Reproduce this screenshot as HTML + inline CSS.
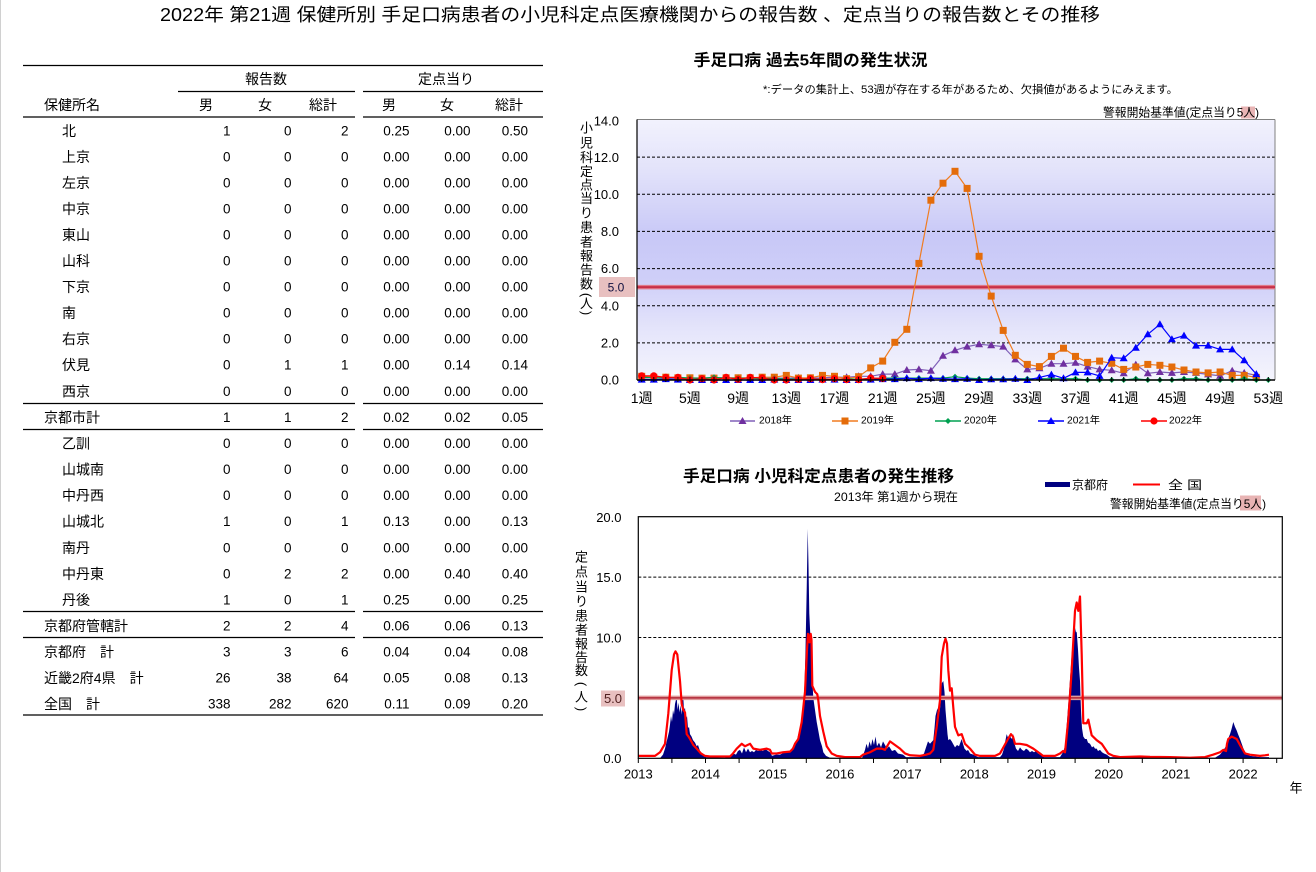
<!DOCTYPE html>
<html><head><meta charset="utf-8"><style>
html,body{margin:0;padding:0;background:#fff;}
svg{display:block;font-family:"Liberation Sans","Noto Sans CJK JP",sans-serif;}
</style></head><body>
<svg width="1316" height="872" viewBox="0 0 1316 872" xmlns="http://www.w3.org/2000/svg">
<defs>
<linearGradient id="bg1" x1="0" y1="0" x2="0" y2="1">
<stop offset="0" stop-color="#f2f2fd"/>
<stop offset="0.2" stop-color="#e2e2fa"/>
<stop offset="0.45" stop-color="#c8c8f7"/>
<stop offset="0.62" stop-color="#cfcff8"/>
<stop offset="0.82" stop-color="#e6e6fb"/>
<stop offset="1" stop-color="#f4f4fd"/>
</linearGradient>
<marker id="mP" viewBox="-5 -5 10 10" markerWidth="10" markerHeight="10" markerUnits="userSpaceOnUse" refX="0" refY="0"><path d="M0,-4L4,3L-4,3Z" fill="#7030a0"/></marker>
<marker id="mO" viewBox="-5 -5 10 10" markerWidth="10" markerHeight="10" markerUnits="userSpaceOnUse" refX="0" refY="0"><rect x="-3.5" y="-3.5" width="7" height="7" fill="#e46c0a"/></marker>
<marker id="mG" viewBox="-5 -5 10 10" markerWidth="10" markerHeight="10" markerUnits="userSpaceOnUse" refX="0" refY="0"><path d="M0,-3L3,0L0,3L-3,0Z" fill="#00a050"/></marker>
<marker id="mB" viewBox="-5 -5 10 10" markerWidth="10" markerHeight="10" markerUnits="userSpaceOnUse" refX="0" refY="0"><path d="M0,-4L4,3L-4,3Z" fill="#0000ff"/></marker>
<marker id="mR" viewBox="-5 -5 10 10" markerWidth="10" markerHeight="10" markerUnits="userSpaceOnUse" refX="0" refY="0"><circle r="3.6" fill="#ff0000"/></marker>
</defs>

<rect x="0" y="0" width="1316" height="872" fill="#fff"/>
<line x1="0.5" y1="0" x2="0.5" y2="872" stroke="#d0d0d0" stroke-width="1"/>

<!-- Title -->
<text x="160" y="15" dominant-baseline="central" font-size="18" textLength="940" lengthAdjust="spacingAndGlyphs">2022年 第21週 保健所別 手足口病患者の小児科定点医療機関からの報告数 、定点当りの報告数とその推移</text>

<!-- TABLE -->
<g stroke="#000" stroke-width="1.3">
<line x1="23" y1="65.5" x2="543" y2="65.5"/>
<line x1="178" y1="91.5" x2="355" y2="91.5"/>
<line x1="363" y1="91.5" x2="543" y2="91.5"/>
<line x1="23" y1="117" x2="355" y2="117"/>
<line x1="363" y1="117" x2="543" y2="117"/>
<line x1="23" y1="403.5" x2="355" y2="403.5"/>
<line x1="363" y1="403.5" x2="543" y2="403.5"/>
<line x1="23" y1="429.5" x2="355" y2="429.5"/>
<line x1="363" y1="429.5" x2="543" y2="429.5"/>
<line x1="23" y1="611.5" x2="355" y2="611.5"/>
<line x1="363" y1="611.5" x2="543" y2="611.5"/>
<line x1="23" y1="637.5" x2="355" y2="637.5"/>
<line x1="363" y1="637.5" x2="543" y2="637.5"/>
<line x1="23" y1="715" x2="543" y2="715"/>
</g>
<g font-size="14" dominant-baseline="central" fill="#000">
<text x="266" y="79" text-anchor="middle">報告数</text>
<text x="446" y="79" text-anchor="middle">定点当り</text>
<text x="44" y="105">保健所名</text>
<text x="206" y="105" text-anchor="middle">男</text>
<text x="265" y="105" text-anchor="middle">女</text>
<text x="323" y="105" text-anchor="middle">総計</text>
<text x="389" y="105" text-anchor="middle">男</text>
<text x="447" y="105" text-anchor="middle">女</text>
<text x="509" y="105" text-anchor="middle">総計</text>
</g>
<g font-size="14" dominant-baseline="central" fill="#000">
<text x="62" y="131">北</text>
<text x="62" y="157">上京</text>
<text x="62" y="183">左京</text>
<text x="62" y="209">中京</text>
<text x="62" y="235">東山</text>
<text x="62" y="261">山科</text>
<text x="62" y="287">下京</text>
<text x="62" y="313">南</text>
<text x="62" y="339">右京</text>
<text x="62" y="365">伏見</text>
<text x="62" y="391.5">西京</text>
<text x="44" y="417.5">京都市計</text>
<text x="62" y="443.5">乙訓</text>
<text x="62" y="469.5">山城南</text>
<text x="62" y="495.5">中丹西</text>
<text x="62" y="521.5">山城北</text>
<text x="62" y="548">南丹</text>
<text x="62" y="574">中丹東</text>
<text x="62" y="600">丹後</text>
<text x="44" y="626">京都府管轄計</text>
<text x="44" y="652">京都府　計</text>
<text x="44" y="678">近畿2府4県　計</text>
<text x="44" y="704">全国　計</text>
</g>
<g font-size="13.5" dominant-baseline="central" text-anchor="end" fill="#000">
<!-- columns: 230.5, 291.5, 348.5, 409.5, 470.5, 528 -->
<text x="230.5" y="131">1</text><text x="291.5" y="131">0</text><text x="348.5" y="131">2</text><text x="409.5" y="131">0.25</text><text x="470.5" y="131">0.00</text><text x="528" y="131">0.50</text>
<text x="230.5" y="157">0</text><text x="291.5" y="157">0</text><text x="348.5" y="157">0</text><text x="409.5" y="157">0.00</text><text x="470.5" y="157">0.00</text><text x="528" y="157">0.00</text>
<text x="230.5" y="183">0</text><text x="291.5" y="183">0</text><text x="348.5" y="183">0</text><text x="409.5" y="183">0.00</text><text x="470.5" y="183">0.00</text><text x="528" y="183">0.00</text>
<text x="230.5" y="209">0</text><text x="291.5" y="209">0</text><text x="348.5" y="209">0</text><text x="409.5" y="209">0.00</text><text x="470.5" y="209">0.00</text><text x="528" y="209">0.00</text>
<text x="230.5" y="235">0</text><text x="291.5" y="235">0</text><text x="348.5" y="235">0</text><text x="409.5" y="235">0.00</text><text x="470.5" y="235">0.00</text><text x="528" y="235">0.00</text>
<text x="230.5" y="261">0</text><text x="291.5" y="261">0</text><text x="348.5" y="261">0</text><text x="409.5" y="261">0.00</text><text x="470.5" y="261">0.00</text><text x="528" y="261">0.00</text>
<text x="230.5" y="287">0</text><text x="291.5" y="287">0</text><text x="348.5" y="287">0</text><text x="409.5" y="287">0.00</text><text x="470.5" y="287">0.00</text><text x="528" y="287">0.00</text>
<text x="230.5" y="313">0</text><text x="291.5" y="313">0</text><text x="348.5" y="313">0</text><text x="409.5" y="313">0.00</text><text x="470.5" y="313">0.00</text><text x="528" y="313">0.00</text>
<text x="230.5" y="339">0</text><text x="291.5" y="339">0</text><text x="348.5" y="339">0</text><text x="409.5" y="339">0.00</text><text x="470.5" y="339">0.00</text><text x="528" y="339">0.00</text>
<text x="230.5" y="365">0</text><text x="291.5" y="365">1</text><text x="348.5" y="365">1</text><text x="409.5" y="365">0.00</text><text x="470.5" y="365">0.14</text><text x="528" y="365">0.14</text>
<text x="230.5" y="391.5">0</text><text x="291.5" y="391.5">0</text><text x="348.5" y="391.5">0</text><text x="409.5" y="391.5">0.00</text><text x="470.5" y="391.5">0.00</text><text x="528" y="391.5">0.00</text>
<text x="230.5" y="417.5">1</text><text x="291.5" y="417.5">1</text><text x="348.5" y="417.5">2</text><text x="409.5" y="417.5">0.02</text><text x="470.5" y="417.5">0.02</text><text x="528" y="417.5">0.05</text>
<text x="230.5" y="443.5">0</text><text x="291.5" y="443.5">0</text><text x="348.5" y="443.5">0</text><text x="409.5" y="443.5">0.00</text><text x="470.5" y="443.5">0.00</text><text x="528" y="443.5">0.00</text>
<text x="230.5" y="469.5">0</text><text x="291.5" y="469.5">0</text><text x="348.5" y="469.5">0</text><text x="409.5" y="469.5">0.00</text><text x="470.5" y="469.5">0.00</text><text x="528" y="469.5">0.00</text>
<text x="230.5" y="495.5">0</text><text x="291.5" y="495.5">0</text><text x="348.5" y="495.5">0</text><text x="409.5" y="495.5">0.00</text><text x="470.5" y="495.5">0.00</text><text x="528" y="495.5">0.00</text>
<text x="230.5" y="521.5">1</text><text x="291.5" y="521.5">0</text><text x="348.5" y="521.5">1</text><text x="409.5" y="521.5">0.13</text><text x="470.5" y="521.5">0.00</text><text x="528" y="521.5">0.13</text>
<text x="230.5" y="548">0</text><text x="291.5" y="548">0</text><text x="348.5" y="548">0</text><text x="409.5" y="548">0.00</text><text x="470.5" y="548">0.00</text><text x="528" y="548">0.00</text>
<text x="230.5" y="574">0</text><text x="291.5" y="574">2</text><text x="348.5" y="574">2</text><text x="409.5" y="574">0.00</text><text x="470.5" y="574">0.40</text><text x="528" y="574">0.40</text>
<text x="230.5" y="600">1</text><text x="291.5" y="600">0</text><text x="348.5" y="600">1</text><text x="409.5" y="600">0.25</text><text x="470.5" y="600">0.00</text><text x="528" y="600">0.25</text>
<text x="230.5" y="626">2</text><text x="291.5" y="626">2</text><text x="348.5" y="626">4</text><text x="409.5" y="626">0.06</text><text x="470.5" y="626">0.06</text><text x="528" y="626">0.13</text>
<text x="230.5" y="652">3</text><text x="291.5" y="652">3</text><text x="348.5" y="652">6</text><text x="409.5" y="652">0.04</text><text x="470.5" y="652">0.04</text><text x="528" y="652">0.08</text>
<text x="230.5" y="678">26</text><text x="291.5" y="678">38</text><text x="348.5" y="678">64</text><text x="409.5" y="678">0.05</text><text x="470.5" y="678">0.08</text><text x="528" y="678">0.13</text>
<text x="230.5" y="704">338</text><text x="291.5" y="704">282</text><text x="348.5" y="704">620</text><text x="409.5" y="704">0.11</text><text x="470.5" y="704">0.09</text><text x="528" y="704">0.20</text>
</g>

<!-- TOP CHART -->
<text x="693.5" y="61" dominant-baseline="central" font-size="16" font-weight="bold" textLength="234" lengthAdjust="spacingAndGlyphs">手足口病 過去5年間の発生状況</text>
<text x="763" y="90" dominant-baseline="central" font-size="11" textLength="415" lengthAdjust="spacingAndGlyphs">*:データの集計上、53週が存在する年があるため、欠損値があるようにみえます。</text>
<rect x="1241" y="106.5" width="14" height="12" fill="#e8b4b4"/>
<text x="1103" y="112.5" dominant-baseline="central" font-size="12" textLength="156" lengthAdjust="spacingAndGlyphs">警報開始基準値(定点当り5人)</text>

<rect x="637" y="119.5" width="638" height="260.5" fill="url(#bg1)"/>
<g stroke="#000" stroke-width="1" stroke-dasharray="3,2">
<line x1="637" y1="157.1" x2="1275" y2="157.1"/>
<line x1="637" y1="194.3" x2="1275" y2="194.3"/>
<line x1="637" y1="231.4" x2="1275" y2="231.4"/>
<line x1="637" y1="268.6" x2="1275" y2="268.6"/>
<line x1="637" y1="305.7" x2="1275" y2="305.7"/>
<line x1="637" y1="342.9" x2="1275" y2="342.9"/>
</g>
<line x1="637" y1="119.5" x2="1275" y2="119.5" stroke="#808080" stroke-width="1"/>
<line x1="1275" y1="119.5" x2="1275" y2="380" stroke="#808080" stroke-width="1"/>
<line x1="637" y1="287.1" x2="1275" y2="287.1" stroke="#e07a88" stroke-width="4.5"/>
<line x1="637" y1="287.1" x2="1275" y2="287.1" stroke="#c83048" stroke-width="2"/>
<rect x="599" y="277" width="36" height="20" fill="#e8c0c0"/>
<text x="616" y="287.5" text-anchor="middle" dominant-baseline="central" font-size="12" fill="#101040">5.0</text>

<g font-size="13" text-anchor="end" dominant-baseline="central" fill="#000">
<text x="619" y="121">14.0</text>
<text x="619" y="157.5">12.0</text>
<text x="619" y="194.5">10.0</text>
<text x="619" y="231.5">8.0</text>
<text x="619" y="268.5">6.0</text>
<text x="619" y="306">4.0</text>
<text x="619" y="343">2.0</text>
<text x="619" y="380">0.0</text>
</g>
<g font-size="13" text-anchor="middle" dominant-baseline="central" fill="#000">
<text x="586.5" y="128">小</text>
<text x="586.5" y="143">児</text>
<text x="586.5" y="157.5">科</text>
<text x="586.5" y="171.5">定</text>
<text x="586.5" y="185">点</text>
<text x="586.5" y="198.5">当</text>
<text x="586.5" y="213">り</text>
<text x="586.5" y="227.5">患</text>
<text x="586.5" y="242">者</text>
<text x="586.5" y="256">報</text>
<text x="586.5" y="270">告</text>
<text x="586.5" y="284">数</text>
<text x="586.5" y="295" transform="rotate(90 586.5 295)">(</text>
<text x="586.5" y="303.5">人</text>
<text x="586.5" y="313" transform="rotate(90 586.5 313)">)</text>
</g>

<!-- series -->
<g fill="none" stroke-width="1.2" stroke-linejoin="round">
<polyline stroke="#8060b8" marker-start="url(#mP)" marker-mid="url(#mP)" marker-end="url(#mP)" points="641.7,378.1 653.8,377.8 665.8,378.1 677.9,378.5 689.9,378.1 702.0,378.5 714.0,378.1 726.1,377.8 738.1,378.1 750.2,378.1 762.2,377.8 774.3,378.1 786.3,378.1 798.4,377.8 810.4,378.1 822.5,377.8 834.5,377.2 846.6,377.2 858.6,376.3 870.7,376.3 882.7,374.1 894.8,374.1 906.8,370.0 918.9,369.4 930.9,370.7 943.0,355.7 955.0,350.3 967.1,346.6 979.1,344.3 991.2,345.3 1003.2,346.6 1015.3,359.4 1027.3,369.4 1039.4,368.3 1051.4,363.7 1063.5,363.7 1075.5,362.7 1087.6,366.6 1099.6,369.4 1111.7,370.3 1123.7,373.3 1135.8,364.6 1147.8,373.3 1159.9,372.0 1171.9,372.9 1184.0,372.0 1196.0,372.9 1208.1,374.4 1220.1,375.9 1232.2,370.7 1244.2,372.9 1256.3,375.4"/>
<polyline stroke="#f07c20" marker-start="url(#mO)" marker-mid="url(#mO)" marker-end="url(#mO)" points="641.7,376.3 653.8,377.2 665.8,377.2 677.9,377.8 689.9,377.8 702.0,378.1 714.0,378.1 726.1,377.8 738.1,377.8 750.2,377.8 762.2,377.2 774.3,377.2 786.3,375.4 798.4,378.1 810.4,377.8 822.5,375.4 834.5,376.3 846.6,378.7 858.6,376.7 870.7,367.9 882.7,361.1 894.8,342.3 906.8,329.3 918.9,263.4 930.9,200.2 943.0,183.2 955.0,171.3 967.1,188.4 979.1,256.3 991.2,296.1 1003.2,330.4 1015.3,355.3 1027.3,364.4 1039.4,366.6 1051.4,356.4 1063.5,348.2 1075.5,356.4 1087.6,362.4 1099.6,361.1 1111.7,363.3 1123.7,369.4 1135.8,367.0 1147.8,364.4 1159.9,365.3 1171.9,367.0 1184.0,370.0 1196.0,372.0 1208.1,372.9 1220.1,372.0 1232.2,375.4 1244.2,375.4 1256.3,377.4"/>
<polyline stroke="#00a050" marker-start="url(#mG)" marker-mid="url(#mG)" marker-end="url(#mG)" points="641.7,377.2 653.8,377.8 665.8,377.8 677.9,377.2 689.9,378.1 702.0,378.1 714.0,377.4 726.1,378.1 738.1,378.1 750.2,378.1 762.2,378.5 774.3,378.5 786.3,379.1 798.4,379.1 810.4,379.1 822.5,379.1 834.5,379.1 846.6,379.1 858.6,379.1 870.7,378.7 882.7,378.1 894.8,378.1 906.8,378.1 918.9,378.1 930.9,378.1 943.0,378.1 955.0,376.7 967.1,378.1 979.1,378.7 991.2,378.7 1003.2,378.7 1015.3,378.7 1027.3,378.7 1039.4,378.7 1051.4,378.7 1063.5,378.7 1075.5,378.7 1087.6,380 1099.6,380 1111.7,380 1123.7,380 1135.8,378.7 1147.8,380 1159.9,380 1171.9,380 1184.0,378.7 1196.0,378.7 1208.1,380 1220.1,380 1232.2,380 1244.2,378.7 1256.3,380 1268.3,380"/>
<polyline stroke="#0000ff" marker-start="url(#mB)" marker-mid="url(#mB)" marker-end="url(#mB)" points="641.7,379.6 653.8,379.6 665.8,379.1 677.9,379.6 689.9,380 702.0,380 714.0,380 726.1,380 738.1,380 750.2,380 762.2,380 774.3,379.6 786.3,380 798.4,380 810.4,380 822.5,379.6 834.5,379.6 846.6,380 858.6,380 870.7,379.6 882.7,379.1 894.8,379.1 906.8,378.1 918.9,379.1 930.9,378.1 943.0,378.7 955.0,379.1 967.1,378.7 979.1,380 991.2,379.3 1003.2,379.3 1015.3,378.7 1027.3,380 1039.4,377.4 1051.4,374.6 1063.5,378.3 1075.5,372.4 1087.6,372.4 1099.6,375.9 1111.7,357.7 1123.7,358.3 1135.8,347.7 1147.8,334.3 1159.9,324.3 1171.9,339.3 1184.0,335.6 1196.0,345.6 1208.1,345.6 1220.1,349.4 1232.2,349.4 1244.2,360.3 1256.3,374.1"/>
<polyline stroke="#ff0000" marker-start="url(#mR)" marker-mid="url(#mR)" marker-end="url(#mR)" points="641.7,375.9 653.8,375.9 665.8,377.4 677.9,377.4 689.9,380 702.0,378.7 714.0,380 726.1,377.4 738.1,379.3 750.2,377.4 762.2,378.0 774.3,380 786.3,380 798.4,379.3 810.4,378.7 822.5,379.6 834.5,378.7 846.6,379.6 858.6,379.6 870.7,378.0 882.7,378.5"/>
</g>
<line x1="637" y1="119.5" x2="637" y2="380" stroke="#000" stroke-width="1.2"/>
<line x1="637" y1="380" x2="1275" y2="380" stroke="#000" stroke-width="1.5"/>
<path stroke="#000" stroke-width="1" d="M641.7 377v5M653.8 377v5M665.8 377v5M677.9 377v5M689.9 377v5M702 377v5M714 377v5M726.1 377v5M738.1 377v5M750.2 377v5M762.2 377v5M774.3 377v5M786.3 377v5M798.4 377v5M810.4 377v5M822.5 377v5M834.5 377v5M846.6 377v5M858.6 377v5M870.7 377v5M882.7 377v5M894.8 377v5M906.8 377v5M918.9 377v5M930.9 377v5M943 377v5M955 377v5M967.1 377v5M979.1 377v5M991.2 377v5M1003.2 377v5M1015.3 377v5M1027.3 377v5M1039.4 377v5M1051.4 377v5M1063.5 377v5M1075.5 377v5M1087.6 377v5M1099.6 377v5M1111.7 377v5M1123.7 377v5M1135.8 377v5M1147.8 377v5M1159.9 377v5M1171.9 377v5M1184 377v5M1196 377v5M1208.1 377v5M1220.1 377v5M1232.2 377v5M1244.2 377v5M1256.3 377v5M1268.3 377v5"/>

<g font-size="14" text-anchor="middle" dominant-baseline="central" fill="#000">
<text x="641.7" y="398">1週</text>
<text x="689.9" y="398">5週</text>
<text x="738.1" y="398">9週</text>
<text x="786.3" y="398">13週</text>
<text x="834.5" y="398">17週</text>
<text x="882.7" y="398">21週</text>
<text x="930.9" y="398">25週</text>
<text x="979.1" y="398">29週</text>
<text x="1027.3" y="398">33週</text>
<text x="1075.5" y="398">37週</text>
<text x="1123.7" y="398">41週</text>
<text x="1171.9" y="398">45週</text>
<text x="1220.1" y="398">49週</text>
<text x="1268.3" y="398">53週</text>
</g>

<!-- top legend -->
<g stroke-width="1.5">
<line x1="730" y1="421" x2="755" y2="421" stroke="#8060b8"/>
<line x1="832" y1="421" x2="858" y2="421" stroke="#f07c20"/>
<line x1="935" y1="421" x2="961" y2="421" stroke="#00a050"/>
<line x1="1038" y1="421" x2="1064" y2="421" stroke="#0000ff"/>
<line x1="1141" y1="421" x2="1167" y2="421" stroke="#ff0000"/>
</g>
<path d="M742.5,417L746.5,424L738.5,424Z" fill="#7030a0"/>
<rect x="841.5" y="417.5" width="7" height="7" fill="#e46c0a"/>
<path d="M948,418L951,421L948,424L945,421Z" fill="#00a050"/>
<path d="M1051,417L1055,424L1047,424Z" fill="#0000ff"/>
<circle cx="1154" cy="421" r="3.6" fill="#ff0000"/>
<g font-size="10" dominant-baseline="central" fill="#000">
<text x="759" y="421" textLength="33" lengthAdjust="spacingAndGlyphs">2018年</text>
<text x="861" y="421" textLength="33" lengthAdjust="spacingAndGlyphs">2019年</text>
<text x="964" y="421" textLength="33" lengthAdjust="spacingAndGlyphs">2020年</text>
<text x="1067" y="421" textLength="33" lengthAdjust="spacingAndGlyphs">2021年</text>
<text x="1169" y="421" textLength="33" lengthAdjust="spacingAndGlyphs">2022年</text>
</g>

<!-- BOTTOM CHART -->
<text x="683" y="477" dominant-baseline="central" font-size="16" font-weight="bold" textLength="271" lengthAdjust="spacingAndGlyphs">手足口病 小児科定点患者の発生推移</text>
<text x="834" y="497" dominant-baseline="central" font-size="12" textLength="124" lengthAdjust="spacingAndGlyphs">2013年 第1週から現在</text>
<rect x="1045" y="482" width="25" height="5" fill="#000080"/>
<text x="1072" y="485" dominant-baseline="central" font-size="12" textLength="36" lengthAdjust="spacingAndGlyphs">京都府</text>
<line x1="1133" y1="484.5" x2="1160" y2="484.5" stroke="#ff0000" stroke-width="2"/>
<text x="1168" y="485" dominant-baseline="central" font-size="12" textLength="34" lengthAdjust="spacingAndGlyphs">全 国</text>
<rect x="1240" y="495.5" width="21" height="15" fill="#e8b4b4"/>
<text x="1110" y="504" dominant-baseline="central" font-size="12" textLength="156" lengthAdjust="spacingAndGlyphs">警報開始基準値(定点当り5人)</text>

<rect x="638.3" y="516.7" width="644" height="241.6" fill="#fff"/>
<g stroke="#000" stroke-width="1" stroke-dasharray="3,2">
<line x1="638.3" y1="577.1" x2="1282.3" y2="577.1"/>
<line x1="638.3" y1="637.5" x2="1282.3" y2="637.5"/>
</g>

<g transform="matrix(1,0,0,-12.08,0,758.3)">
<polygon fill="#000080" points="638.3,0 660,0 663,0.3 665,0.8 667,1.5 669,2.2 670,2.8 671,3.5 672,3.0 673,4.0 674,3.6 675,4.5 676.7,5.1 677.5,4.0 678.5,4.6 679.5,3.8 680.5,4.4 681.5,3.6 682.5,4.8 683.3,5.0 684,4.0 685,4.2 686,3.2 687,3.5 688,2.5 689,2.6 690,2.0 691.5,1.8 693,1.5 695,1.3 696.7,1.0 698,1.1 700,0.6 703,0.3 706,0.1 725,0.05 730,0.2 733,0.4 736,0.3 738,0.6 740,0.7 742,0.4 744,0.9 746,0.5 748,0.8 750,0.5 752,0.6 754,0.5 756,0.7 758,0.6 760,0.7 763,0.6 765,0.8 768,0.6 770,0.5 772,0.2 776,0.3 780,0.3 785,0.5 790,0.6 793.3,1.0 795,1.3 797,1.5 799,2.2 800,2.5 801.5,3.2 803.3,4.0 804.5,6.0 805.5,9.0 806.7,14.0 807.7,19.0 808.5,16.0 809.3,12.0 810.7,9.5 812,7.0 813.3,5.0 815,4.0 816.7,3.0 818.5,2.2 820,1.5 822,1.0 823.3,0.5 826,0.2 830,0.05 862,0 865,0.7 866.5,1.2 868,0.8 869.5,1.4 871,1.0 872.5,1.6 874,1.1 875.5,1.8 877,1.0 879,1.3 881,0.9 883,1.4 885,1.1 887,0.8 889,1.0 892,0.6 895,0.7 898,0.4 903,0.3 906,0.1 920,0.1 924,0.4 926,0.9 928,1.4 930,1.2 933.3,1.5 934.5,2.5 935.5,3.5 937,4.0 938.3,4.2 939.5,3.8 940.5,4.5 941.7,6.2 943.3,6.4 944.5,5.5 945.5,4.0 946.5,3.0 947.5,2.0 948.3,1.5 950,1.6 951.7,1.4 953,1.2 955,0.9 957,1.1 959,1.0 961.7,1.6 963,1.2 964.5,0.8 966.7,0.6 968,0.7 970,0.4 973.3,0.3 978,0.1 1000,0.1 1002,0.3 1004,0.8 1005.5,1.5 1006.7,2.0 1008,1.7 1010,1.8 1012,1.6 1013.3,2.0 1014.5,1.2 1016,0.8 1018,0.6 1020,0.9 1022,0.7 1024,0.6 1026,0.8 1028,0.7 1030,0.5 1032,0.6 1034,0.5 1036,0.6 1038,0.4 1040,0.3 1044,0.1 1060,0.1 1063,0.5 1065,1.0 1066.5,2.5 1068.3,4.5 1070,6.5 1071.7,8.6 1073,9.8 1074,10.5 1075,10.8 1076,10.4 1076.7,10.5 1078,9.0 1079,7.5 1080,6.4 1081,4.0 1082,2.5 1083.3,1.8 1085,1.6 1086.7,1.6 1088,1.3 1090,1.2 1092,0.9 1093.5,1.0 1095,0.8 1096.7,0.8 1098,0.6 1100,0.7 1102,0.5 1104,0.4 1106.7,0.3 1110,0.1 1215,0.05 1218,0.2 1220,0.3 1223,0.6 1226.7,1.1 1228,1.6 1230,2.0 1231.5,2.4 1233.3,3.0 1235,2.6 1236.7,2.3 1238,2.0 1240,1.6 1241.7,1.2 1243,0.9 1245,0.5 1247,0.35 1250,0.2 1260,0.1 1269,0.1 1269,0"/>
</g>
<line x1="638.3" y1="697.9" x2="1282.3" y2="697.9" stroke="#e09a9a" stroke-width="4.5"/>
<line x1="638.3" y1="697.9" x2="1282.3" y2="697.9" stroke="#b02838" stroke-width="1.5"/>
<g transform="matrix(1,0,0,-12.08,0,758.3)">
<polyline fill="none" stroke="#ff0000" stroke-width="2.2" stroke-linejoin="round" vector-effect="non-scaling-stroke" points="638.3,0.2 655,0.2 660,0.5 665,1.2 668.3,3.7 671.7,7.3 674,8.6 675.5,8.85 677.3,8.6 680,6.4 681.7,4.5 683.3,4.0 685,3.8 686.7,2.0 688.5,1.8 690,1.6 693.3,1.1 696.7,0.8 701,0.4 705,0.2 710,0.15 730,0.15 733,0.4 736.7,0.8 741.7,1.2 745,1.0 750,1.2 753.3,0.8 760,0.7 766.7,0.8 770,0.7 771.7,0.4 776.7,0.4 783.3,0.5 790,0.55 793,0.8 795,1.2 798.3,1.6 801.7,3.0 805,5.5 807,9.0 808,10.3 809.5,9.6 810.7,10.3 811.5,9.8 812.3,6.0 815,5.5 817.3,5.3 818.3,4.8 820,3.5 823.3,2.2 826.7,1.0 831.7,0.4 836.7,0.2 845,0.1 860,0.1 863,0.3 870,0.5 876.7,0.8 881.7,0.8 885,0.7 890,1.4 895,1.1 900,0.8 905,0.4 910,0.25 920,0.2 926,0.3 930,0.4 933.3,0.7 936.7,2.6 940,4.8 941.7,8.4 944,9.5 945.5,9.9 947,9.5 948.3,7.3 950,5.6 951.7,5.8 953.3,4.2 955,2.6 958.3,1.9 961.7,2.0 965,1.2 970,0.8 975,0.3 980,0.2 995,0.2 1000,0.4 1004,1.0 1008,1.6 1011,2.0 1013,1.8 1015,1.2 1020,1.2 1026.7,1.1 1033.3,0.8 1040,0.4 1043,0.2 1055,0.2 1060,0.4 1063,0.6 1065,0.5 1068.3,3.2 1071.7,7.3 1075,12.2 1076.7,12.9 1078.3,12.2 1080,13.4 1081.7,8.6 1083.3,2.9 1086.7,2.9 1088.3,3.2 1091.7,1.9 1096.7,1.5 1101.7,1.2 1108.3,0.4 1113.3,0.2 1120,0.1 1140,0.15 1150,0.12 1170,0.1 1190,0.05 1205,0.1 1213,0.3 1220,0.5 1223.3,0.7 1226,0.6 1227,1.2 1228.3,1.6 1231.7,1.8 1236.7,1.6 1240,1.1 1245,0.4 1250,0.3 1260,0.2 1265,0.25 1269,0.3"/>
</g>
<rect x="638.3" y="516.7" width="644" height="241.6" fill="none" stroke="#000" stroke-width="1.2"/>
<rect x="601" y="690.5" width="24" height="16" fill="#e8c0c0"/>
<text x="613" y="698.5" text-anchor="middle" dominant-baseline="central" font-size="13" fill="#502020">5.0</text>
<g font-size="13" text-anchor="end" dominant-baseline="central" fill="#000">
<text x="621.5" y="517.5">20.0</text>
<text x="621.5" y="577.5">15.0</text>
<text x="621.5" y="638">10.0</text>
<text x="621.5" y="758.5">0.0</text>
</g>
<g font-size="13" text-anchor="middle" dominant-baseline="central" fill="#000">
<text x="581.5" y="557">定</text>
<text x="581.5" y="572">点</text>
<text x="581.5" y="587">当</text>
<text x="581.5" y="601.5">り</text>
<text x="581.5" y="616">患</text>
<text x="581.5" y="630">者</text>
<text x="581.5" y="644">報</text>
<text x="581.5" y="657.5">告</text>
<text x="581.5" y="670.5">数</text>
<text x="581.5" y="684" transform="rotate(90 581.5 684)">(</text>
<text x="581.5" y="697">人</text>
<text x="581.5" y="709" transform="rotate(90 581.5 709)">)</text>
</g>
<path stroke="#000" stroke-width="1" d="M638.3 758v5M671.9 758v5M705.5 758v5M739.1 758v5M772.7 758v5M806.3 758v5M839.9 758v5M873.5 758v5M907.1 758v5M940.7 758v5M974.3 758v5M1007.9 758v5M1041.5 758v5M1075.1 758v5M1108.7 758v5M1142.3 758v5M1175.9 758v5M1209.5 758v5M1243.1 758v5M1276.7 758v5"/>
<g font-size="13" text-anchor="middle" dominant-baseline="central" fill="#000">
<text x="638.3" y="774">2013</text>
<text x="705.5" y="774">2014</text>
<text x="772.7" y="774">2015</text>
<text x="839.9" y="774">2016</text>
<text x="907.1" y="774">2017</text>
<text x="974.3" y="774">2018</text>
<text x="1041.5" y="774">2019</text>
<text x="1108.7" y="774">2020</text>
<text x="1175.9" y="774">2021</text>
<text x="1243.1" y="774">2022</text>
<text x="1296" y="788">年</text>
</g>
</svg>
</body></html>
